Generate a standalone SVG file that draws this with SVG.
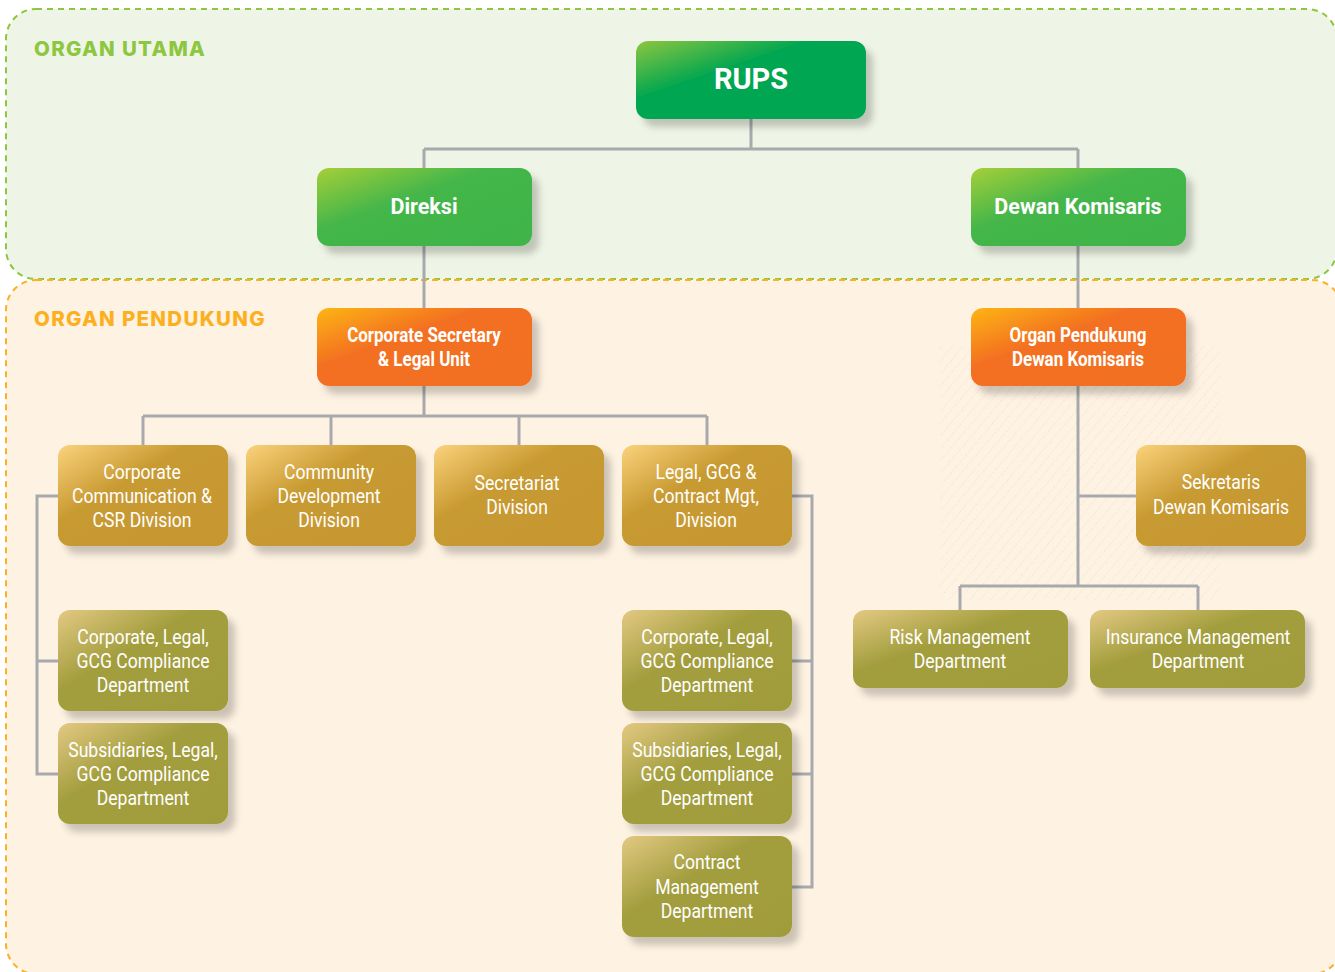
<svg xmlns="http://www.w3.org/2000/svg" width="1335" height="972" viewBox="0 0 1335 972">
<style>
.panel{stroke-width:2;stroke-dasharray:6 5}
.plabel{font-family:Inter,"Liberation Sans",sans-serif;font-weight:800;font-size:20.5px;letter-spacing:1.3px}
.conn{fill:none;stroke:#a7a9ac;stroke-width:3}
.node rect{filter:url(#sh)}
.t{font-family:Roboto,"Liberation Sans",sans-serif;fill:#fff;text-anchor:middle;font-size:20px}
.b{font-weight:700}
.g{font-size:21.5px}
</style>
<defs>
<filter id="sh" x="-10%" y="-10%" width="130%" height="140%">
<feDropShadow dx="7" dy="8" stdDeviation="3.5" flood-color="#000" flood-opacity="0.2"/>
</filter>
<linearGradient id="gRups" x1="0" y1="0" x2="1" y2="1">
<stop offset="0" stop-color="#8dc63f"/><stop offset="0.38" stop-color="#00a651"/><stop offset="1" stop-color="#00a651"/>
</linearGradient>
<linearGradient id="gGreen" x1="0" y1="0" x2="1" y2="1">
<stop offset="0" stop-color="#a6cf39"/><stop offset="0.4" stop-color="#44b649"/><stop offset="1" stop-color="#3fb449"/>
</linearGradient>
<linearGradient id="gOrange" x1="0" y1="0" x2="1" y2="1">
<stop offset="0" stop-color="#fdb515"/><stop offset="0.38" stop-color="#f37021"/><stop offset="1" stop-color="#f26f21"/>
</linearGradient>
<linearGradient id="gGold" x1="0" y1="0" x2="1" y2="1">
<stop offset="0" stop-color="#fbd27c"/><stop offset="0.38" stop-color="#c89a31"/><stop offset="1" stop-color="#c6972f"/>
</linearGradient>
<linearGradient id="gOlive" x1="0" y1="0" x2="1" y2="1">
<stop offset="0" stop-color="#e3c982"/><stop offset="0.4" stop-color="#a39e3e"/><stop offset="1" stop-color="#a09c3b"/>
</linearGradient>
<pattern id="hatch" width="8" height="8" patternUnits="userSpaceOnUse" patternTransform="rotate(40)">
<line x1="0" y1="0" x2="0" y2="8" stroke="#d9c9b0" stroke-width="1" stroke-dasharray="1 2"/>
</pattern>
</defs>

<g id="panels">
<rect class="panel" x="6" y="9" width="1331" height="270" rx="30" fill="#eff5e6" stroke="#8dc63f"/>
<rect class="panel" x="6" y="280" width="1336" height="694" rx="30" fill="#fef2e2" stroke="#fbb125"/>
<rect x="940" y="345" width="280" height="255" fill="url(#hatch)" opacity="0.8"/>
<text class="plabel" x="34" y="56" fill="#8dc63f">ORGAN UTAMA</text>
<text class="plabel" x="34" y="326" fill="#fbb01f">ORGAN PENDUKUNG</text>
</g>

<g id="connectors" class="conn">
<path d="M751 119 V149 M424 149 H1078 M424 149 V168 M1078 149 V168"/>
<path d="M424 246 V308 M1078 246 V308"/>
<path d="M424 386 V416 M143 416 H707 M143 416 V445 M331 416 V445 M519 416 V445 M707 416 V445"/>
<path d="M58 496 H37 V774 H58 M37 661 H58"/>
<path d="M792 496 H812 V887 H792 M812 661 H792 M812 774 H792"/>
<path d="M1078 386 V586 M1078 496 H1136 M960 586 H1198 M960 586 V610 M1198 586 V610"/>
</g>

<g id="n-rups" class="node">
<rect x="636" y="41" width="230" height="78" rx="12" fill="url(#gRups)"/>
<text class="t b" x="751" y="89" style="font-size:29px">RUPS</text>
</g>
<g id="n-direksi" class="node">
<rect x="317" y="168" width="215" height="78" rx="12" fill="url(#gGreen)"/>
<text class="t b g" x="424" y="214">Direksi</text>
</g>
<g id="n-dekom" class="node">
<rect x="971" y="168" width="215" height="78" rx="12" fill="url(#gGreen)"/>
<text class="t b g" x="1078" y="214">Dewan Komisaris</text>
</g>

<g id="n-corpsec" class="node">
<rect x="317" y="308" width="215" height="78" rx="12" fill="url(#gOrange)"/>
<text class="t b" transform="translate(424,0) scale(0.85,1)"><tspan x="0" y="342">Corporate Secretary</tspan><tspan x="0" y="366">&amp; Legal Unit</tspan></text>
</g>
<g id="n-opdekom" class="node">
<rect x="971" y="308" width="215" height="78" rx="12" fill="url(#gOrange)"/>
<text class="t b" transform="translate(1078,0) scale(0.85,1)"><tspan x="0" y="342">Organ Pendukung</tspan><tspan x="0" y="366">Dewan Komisaris</tspan></text>
</g>

<g id="n-corpcomm" class="node">
<rect x="58" y="445" width="170" height="101" rx="12" fill="url(#gGold)"/>
<text class="t" transform="translate(142,0) scale(0.88,1)"><tspan x="0" y="479">Corporate</tspan><tspan x="0" y="503">Communication &amp;</tspan><tspan x="0" y="527">CSR Division</tspan></text>
</g>
<g id="n-comdev" class="node">
<rect x="246" y="445" width="170" height="101" rx="12" fill="url(#gGold)"/>
<text class="t" transform="translate(329,0) scale(0.88,1)"><tspan x="0" y="479">Community</tspan><tspan x="0" y="503">Development</tspan><tspan x="0" y="527">Division</tspan></text>
</g>
<g id="n-secretariat" class="node">
<rect x="434" y="445" width="170" height="101" rx="12" fill="url(#gGold)"/>
<text class="t" transform="translate(517,0) scale(0.88,1)"><tspan x="0" y="490">Secretariat</tspan><tspan x="0" y="514">Division</tspan></text>
</g>
<g id="n-legalgcg" class="node">
<rect x="622" y="445" width="170" height="101" rx="12" fill="url(#gGold)"/>
<text class="t" transform="translate(706,0) scale(0.88,1)"><tspan x="0" y="479">Legal, GCG &amp;</tspan><tspan x="0" y="503">Contract Mgt,</tspan><tspan x="0" y="527">Division</tspan></text>
</g>
<g id="n-sekdekom" class="node">
<rect x="1136" y="445" width="170" height="101" rx="12" fill="url(#gGold)"/>
<text class="t" transform="translate(1221,0) scale(0.88,1)"><tspan x="0" y="489">Sekretaris</tspan><tspan x="0" y="514">Dewan Komisaris</tspan></text>
</g>

<g id="n-corplegal-l" class="node">
<rect x="58" y="610" width="170" height="101" rx="12" fill="url(#gOlive)"/>
<text class="t" transform="translate(143,0) scale(0.88,1)"><tspan x="0" y="644">Corporate, Legal,</tspan><tspan x="0" y="668">GCG Compliance</tspan><tspan x="0" y="692">Department</tspan></text>
</g>
<g id="n-sublegal-l" class="node">
<rect x="58" y="723" width="170" height="101" rx="12" fill="url(#gOlive)"/>
<text class="t" transform="translate(143,0) scale(0.88,1)"><tspan x="0" y="757">Subsidiaries, Legal,</tspan><tspan x="0" y="781">GCG Compliance</tspan><tspan x="0" y="805">Department</tspan></text>
</g>
<g id="n-corplegal-r" class="node">
<rect x="622" y="610" width="170" height="101" rx="12" fill="url(#gOlive)"/>
<text class="t" transform="translate(707,0) scale(0.88,1)"><tspan x="0" y="644">Corporate, Legal,</tspan><tspan x="0" y="668">GCG Compliance</tspan><tspan x="0" y="692">Department</tspan></text>
</g>
<g id="n-sublegal-r" class="node">
<rect x="622" y="723" width="170" height="101" rx="12" fill="url(#gOlive)"/>
<text class="t" transform="translate(707,0) scale(0.88,1)"><tspan x="0" y="757">Subsidiaries, Legal,</tspan><tspan x="0" y="781">GCG Compliance</tspan><tspan x="0" y="805">Department</tspan></text>
</g>
<g id="n-contract" class="node">
<rect x="622" y="836" width="170" height="101" rx="12" fill="url(#gOlive)"/>
<text class="t" transform="translate(707,0) scale(0.88,1)"><tspan x="0" y="869">Contract</tspan><tspan x="0" y="894">Management</tspan><tspan x="0" y="918">Department</tspan></text>
</g>
<g id="n-risk" class="node">
<rect x="853" y="610" width="215" height="78" rx="12" fill="url(#gOlive)"/>
<text class="t" transform="translate(960,0) scale(0.88,1)"><tspan x="0" y="644">Risk Management</tspan><tspan x="0" y="668">Department</tspan></text>
</g>
<g id="n-insurance" class="node">
<rect x="1090" y="610" width="215" height="78" rx="12" fill="url(#gOlive)"/>
<text class="t" transform="translate(1198,0) scale(0.88,1)"><tspan x="0" y="644">Insurance Management</tspan><tspan x="0" y="668">Department</tspan></text>
</g>
</svg>
